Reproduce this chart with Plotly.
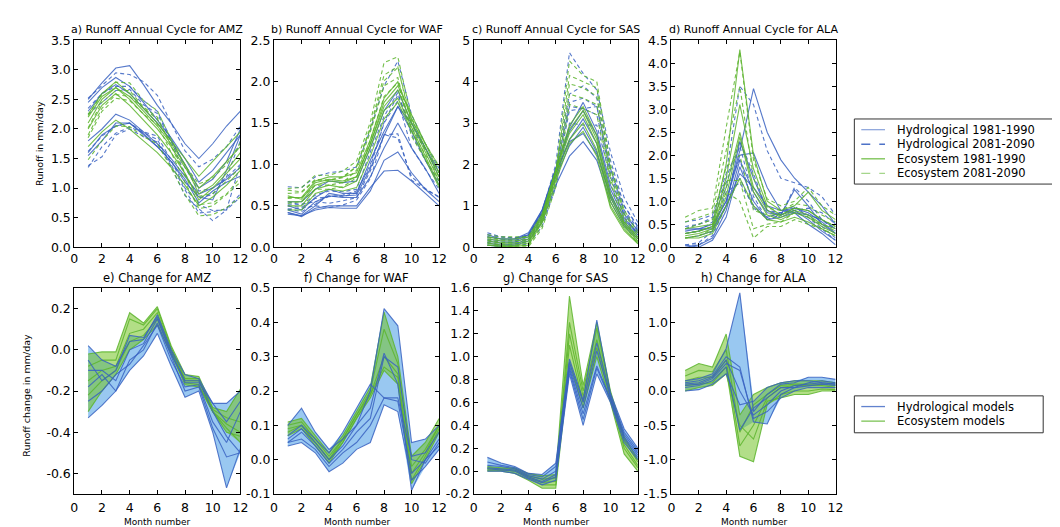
import numpy as np
import plotly.graph_objects as go

W, H = 1060, 527
months = list(range(1, 13))
regions = ["AMZ", "WAF", "SAS", "ALA"]

# ---------------- AMZ ----------------
amz_hyd_hist = [
    [2.5, 2.78, 3.03, 3.07, 2.75, 2.4, 2.1, 1.75, 1.5, 1.75, 2.05, 2.3],
    [2.45, 2.7, 2.87, 2.72, 2.45, 2.15, 1.85, 1.5, 1.1, 1.3, 1.6, 1.9],
    [1.8, 2.0, 2.25, 2.15, 1.95, 1.75, 1.5, 1.2, 0.9, 1.0, 1.15, 1.35],
    [1.6, 1.9, 2.05, 2.1, 1.92, 1.7, 1.45, 1.15, 0.75, 0.95, 1.1, 1.2],
    [1.55, 1.8, 2.1, 2.1, 1.9, 1.7, 1.45, 1.1, 0.85, 0.8, 1.3, 1.9],
    [2.3, 2.6, 2.75, 2.6, 2.35, 2.1, 1.8, 1.4, 1.0, 1.15, 1.45, 2.0],
]
amz_hyd_fut = [
    [2.52, 2.73, 2.95, 2.92, 2.8, 2.57, 2.1, 1.63, 1.36, 1.49, 1.7, 2.05],
    [2.35, 2.6, 2.72, 2.72, 2.48, 2.3, 1.83, 1.35, 0.95, 1.0, 1.18, 1.4],
    [1.62, 1.88, 2.05, 2.1, 1.95, 1.88, 1.47, 1.0, 0.72, 0.62, 0.63, 0.85],
    [1.35, 1.7, 1.93, 2.03, 1.94, 1.82, 1.4, 0.97, 0.58, 0.6, 0.65, 0.9],
    [1.38, 1.53, 1.9, 2.0, 1.87, 1.78, 1.37, 0.87, 0.65, 0.45, 0.63, 1.42],
    [2.25, 2.45, 2.65, 2.67, 2.41, 2.26, 1.79, 1.24, 0.84, 0.89, 1.19, 1.8],
]
amz_eco_hist = [
    [2.25, 2.6, 2.8, 2.6, 2.35, 2.1, 1.8, 1.5, 1.2, 1.45, 1.7, 1.95],
    [2.1, 2.5, 2.7, 2.5, 2.25, 2.0, 1.7, 1.35, 1.0, 1.2, 1.45, 1.7],
    [2.0, 2.4, 2.6, 2.4, 2.15, 1.9, 1.6, 1.25, 0.8, 1.0, 1.25, 1.5],
    [1.7, 1.95, 2.15, 2.0, 1.8, 1.6, 1.35, 1.05, 0.7, 0.85, 1.05, 1.3],
    [2.2, 2.55, 2.7, 2.55, 2.3, 2.05, 1.75, 1.4, 0.9, 1.05, 1.3, 1.6],
]
amz_eco_fut = [
    [2.23, 2.59, 2.79, 2.78, 2.48, 2.31, 1.82, 1.38, 1.07, 1.17, 1.4, 1.76],
    [2.02, 2.45, 2.65, 2.65, 2.37, 2.2, 1.71, 1.21, 0.86, 0.91, 1.12, 1.35],
    [1.85, 2.3, 2.52, 2.48, 2.25, 2.08, 1.6, 1.1, 0.65, 0.7, 0.89, 1.1],
    [1.48, 1.8, 2.05, 2.04, 1.87, 1.75, 1.34, 0.89, 0.53, 0.55, 0.67, 0.85],
    [1.9, 2.35, 2.58, 2.55, 2.35, 2.17, 1.73, 1.23, 0.72, 0.75, 0.9, 1.18],
]
amz_hyd_chg = [
    [0.02, -0.05, -0.08, 0.04, 0.05, 0.17, 0.0, -0.12, -0.14, -0.26, -0.35, -0.25],
    [-0.1, -0.1, -0.15, 0.0, 0.03, 0.15, -0.02, -0.15, -0.15, -0.3, -0.42, -0.5],
    [-0.18, -0.12, -0.2, -0.05, 0.0, 0.13, -0.03, -0.2, -0.18, -0.38, -0.52, -0.5],
    [-0.25, -0.2, -0.12, -0.07, 0.02, 0.12, -0.05, -0.18, -0.17, -0.35, -0.45, -0.3],
    [-0.33, -0.27, -0.2, -0.1, -0.03, 0.08, -0.08, -0.23, -0.2, -0.4, -0.67, -0.48],
    [-0.05, -0.15, -0.1, 0.07, 0.06, 0.16, -0.01, -0.16, -0.16, -0.26, -0.26, -0.2],
]
amz_eco_chg = [
    [-0.02, -0.01, -0.01, 0.18, 0.13, 0.21, 0.02, -0.12, -0.13, -0.28, -0.3, -0.19],
    [-0.08, -0.05, -0.05, 0.15, 0.12, 0.2, 0.01, -0.14, -0.14, -0.29, -0.33, -0.35],
    [-0.15, -0.1, -0.08, 0.08, 0.1, 0.18, 0.0, -0.15, -0.15, -0.3, -0.36, -0.4],
    [-0.22, -0.15, -0.1, 0.04, 0.07, 0.15, -0.01, -0.16, -0.17, -0.3, -0.38, -0.45],
    [-0.3, -0.2, -0.12, 0.0, 0.05, 0.12, -0.02, -0.17, -0.18, -0.3, -0.4, -0.42],
]

# ---------------- WAF ----------------
waf_hyd_hist = [
    [0.42, 0.37, 0.47, 0.5, 0.5, 0.5, 0.72, 0.92, 0.93, 0.8, 0.65, 0.5],
    [0.4, 0.38, 0.45, 0.48, 0.47, 0.47, 0.68, 1.05, 1.15, 0.9, 0.7, 0.55],
    [0.45, 0.4, 0.55, 0.62, 0.6, 0.6, 0.85, 1.2, 1.5, 1.2, 0.95, 0.65],
    [0.5, 0.45, 0.6, 0.7, 0.65, 0.65, 1.05, 1.4, 1.7, 1.4, 1.05, 0.75],
    [0.42, 0.38, 0.5, 0.65, 0.62, 0.63, 0.95, 1.35, 1.7, 1.5, 1.2, 0.9],
    [0.55, 0.55, 0.7, 0.8, 0.78, 0.8, 1.2, 1.65, 1.9, 1.5, 1.2, 0.85],
]
waf_hyd_fut = [
    [0.52, 0.52, 0.55, 0.53, 0.56, 0.6, 0.92, 1.36, 1.32, 0.85, 0.71, 0.6],
    [0.46, 0.47, 0.5, 0.48, 0.51, 0.57, 0.83, 1.36, 1.37, 0.81, 0.7, 0.61],
    [0.5, 0.48, 0.59, 0.61, 0.63, 0.68, 0.97, 1.5, 1.77, 1.2, 0.94, 0.7],
    [0.55, 0.51, 0.63, 0.68, 0.67, 0.7, 1.15, 1.58, 1.87, 1.36, 1.05, 0.79],
    [0.46, 0.43, 0.52, 0.62, 0.61, 0.66, 1.0, 1.51, 1.84, 1.44, 1.18, 0.93],
    [0.73, 0.72, 0.85, 0.9, 0.92, 0.97, 1.42, 1.95, 2.25, 1.6, 1.25, 0.95],
]
waf_eco_hist = [
    [0.6, 0.6, 0.8, 0.85, 0.85, 0.9, 1.3, 1.8, 2.0, 1.55, 1.2, 0.85],
    [0.55, 0.55, 0.75, 0.8, 0.78, 0.85, 1.25, 1.7, 1.9, 1.5, 1.15, 0.8],
    [0.5, 0.5, 0.7, 0.75, 0.72, 0.8, 1.2, 1.65, 1.8, 1.45, 1.1, 0.75],
    [0.45, 0.45, 0.65, 0.7, 0.68, 0.72, 1.1, 1.55, 1.75, 1.4, 1.05, 0.72],
    [0.62, 0.58, 0.78, 0.82, 0.8, 0.85, 1.25, 1.75, 1.95, 1.6, 1.25, 0.9],
]
waf_eco_fut = [
    [0.71, 0.72, 0.87, 0.87, 0.92, 1.04, 1.51, 2.23, 2.3, 1.56, 1.25, 0.97],
    [0.65, 0.66, 0.81, 0.81, 0.84, 0.98, 1.45, 2.08, 2.18, 1.48, 1.18, 0.9],
    [0.59, 0.6, 0.75, 0.75, 0.78, 0.93, 1.39, 1.95, 2.05, 1.41, 1.12, 0.85],
    [0.53, 0.55, 0.7, 0.7, 0.73, 0.84, 1.29, 1.82, 1.99, 1.34, 1.06, 0.81],
    [0.69, 0.67, 0.82, 0.81, 0.85, 0.97, 1.43, 2.01, 2.17, 1.53, 1.25, 0.98],
]
waf_hyd_chg = [
    [0.1, 0.15, 0.08, 0.03, 0.06, 0.1, 0.2, 0.44, 0.39, 0.05, 0.06, 0.1],
    [0.06, 0.09, 0.05, 0.0, 0.04, 0.1, 0.15, 0.31, 0.22, -0.09, 0.0, 0.06],
    [0.05, 0.08, 0.04, -0.01, 0.03, 0.08, 0.12, 0.3, 0.27, 0.0, -0.01, 0.05],
    [0.05, 0.06, 0.03, -0.02, 0.02, 0.05, 0.1, 0.18, 0.17, -0.04, 0.0, 0.04],
    [0.04, 0.05, 0.02, -0.035, -0.01, 0.03, 0.05, 0.16, 0.14, -0.06, -0.02, 0.03],
    [0.07, 0.1, 0.06, 0.02, 0.08, 0.15, 0.22, 0.18, 0.18, 0.01, 0.02, 0.08],
]
waf_eco_chg = [
    [0.11, 0.12, 0.07, 0.02, 0.07, 0.14, 0.21, 0.43, 0.3, 0.01, 0.05, 0.12],
    [0.1, 0.11, 0.06, 0.01, 0.06, 0.13, 0.2, 0.38, 0.28, -0.02, 0.03, 0.1],
    [0.09, 0.1, 0.05, 0.0, 0.06, 0.13, 0.19, 0.3, 0.25, -0.04, 0.02, 0.1],
    [0.08, 0.1, 0.05, 0.0, 0.05, 0.12, 0.19, 0.27, 0.24, -0.06, 0.01, 0.09],
    [0.07, 0.09, 0.04, -0.01, 0.05, 0.12, 0.18, 0.26, 0.22, -0.07, 0.0, 0.08],
]

# ---------------- SAS ----------------
sas_hyd_hist = [
    [0.3, 0.2, 0.2, 0.35, 0.9, 1.9, 2.9, 3.5, 2.8, 1.5, 0.8, 0.4],
    [0.2, 0.15, 0.15, 0.3, 0.9, 1.9, 2.8, 3.3, 2.7, 1.4, 0.7, 0.35],
    [0.15, 0.1, 0.12, 0.25, 0.8, 1.8, 2.6, 3.1, 2.5, 1.3, 0.6, 0.3],
    [0.1, 0.05, 0.08, 0.2, 0.75, 1.7, 2.45, 2.9, 2.3, 1.2, 0.55, 0.25],
    [0.05, 0.02, 0.05, 0.15, 0.6, 1.5, 2.2, 2.55, 2.1, 1.1, 0.5, 0.2],
    [0.25, 0.2, 0.2, 0.3, 0.85, 1.8, 2.55, 2.75, 2.25, 1.25, 0.65, 0.35],
]
sas_hyd_fut = [
    [0.35, 0.25, 0.22, 0.3, 0.85, 2.0, 4.7, 4.2, 3.8, 2.3, 1.2, 0.6],
    [0.25, 0.2, 0.17, 0.27, 0.85, 1.9, 3.7, 3.9, 3.6, 2.1, 1.0, 0.5],
    [0.18, 0.12, 0.13, 0.2, 0.7, 1.8, 3.5, 3.6, 3.4, 1.9, 0.9, 0.45],
    [0.12, 0.06, 0.08, 0.14, 0.65, 1.65, 3.3, 3.35, 3.2, 1.8, 0.85, 0.4],
    [0.05, 0.02, 0.03, 0.08, 0.5, 1.45, 3.0, 2.95, 2.95, 1.7, 0.75, 0.3],
    [0.3, 0.25, 0.23, 0.27, 0.8, 1.85, 3.4, 3.35, 3.4, 1.9, 1.0, 0.5],
]
sas_eco_hist = [
    [0.25, 0.2, 0.2, 0.25, 0.8, 1.9, 2.95, 3.4, 2.7, 1.3, 0.6, 0.25],
    [0.2, 0.15, 0.15, 0.2, 0.75, 1.85, 2.85, 3.3, 2.6, 1.2, 0.55, 0.2],
    [0.15, 0.1, 0.1, 0.15, 0.7, 1.8, 2.75, 3.2, 2.5, 1.1, 0.5, 0.15],
    [0.1, 0.05, 0.05, 0.1, 0.65, 1.7, 2.6, 3.0, 2.35, 1.0, 0.45, 0.1],
    [0.05, 0.02, 0.02, 0.05, 0.6, 1.6, 2.5, 2.8, 2.2, 0.95, 0.4, 0.08],
]
sas_eco_fut = [
    [0.3, 0.25, 0.25, 0.25, 0.75, 1.85, 4.5, 4.15, 4.0, 2.0, 0.9, 0.35],
    [0.23, 0.17, 0.17, 0.17, 0.68, 1.8, 4.15, 4.0, 3.85, 1.9, 0.82, 0.28],
    [0.17, 0.11, 0.11, 0.1, 0.6, 1.72, 3.95, 3.85, 3.65, 1.75, 0.72, 0.2],
    [0.11, 0.06, 0.05, 0.04, 0.53, 1.58, 3.7, 3.6, 3.45, 1.65, 0.65, 0.13],
    [0.05, 0.02, 0.01, 0.01, 0.45, 1.45, 3.45, 3.35, 3.2, 1.55, 0.55, 0.08],
]
sas_hyd_chg = [
    [0.12, 0.07, 0.04, -0.02, -0.03, 0.07, 0.98, 0.62, 1.32, 0.68, 0.37, 0.2],
    [0.05, 0.04, 0.02, -0.04, -0.07, 0.0, 0.92, 0.55, 1.05, 0.65, 0.32, 0.16],
    [0.03, 0.02, 0.01, -0.05, -0.09, -0.03, 0.9, 0.5, 0.92, 0.63, 0.3, 0.14],
    [0.02, 0.01, 0.0, -0.06, -0.1, -0.05, 0.88, 0.45, 0.9, 0.62, 0.28, 0.12],
    [0.0, 0.0, -0.02, -0.07, -0.12, -0.08, 0.85, 0.4, 0.85, 0.6, 0.25, 0.1],
    [0.08, 0.05, 0.03, -0.03, -0.05, 0.04, 0.95, 0.6, 1.12, 0.66, 0.34, 0.18],
]
sas_eco_chg = [
    [0.04, 0.03, 0.03, -0.02, -0.04, -0.03, 1.53, 0.75, 1.3, 0.7, 0.3, 0.1],
    [0.03, 0.02, 0.02, -0.04, -0.07, -0.06, 1.3, 0.7, 1.25, 0.68, 0.27, 0.08],
    [0.02, 0.01, 0.01, -0.05, -0.1, -0.09, 1.2, 0.65, 1.15, 0.66, 0.23, 0.05],
    [0.01, 0.01, 0.0, -0.06, -0.12, -0.12, 1.1, 0.6, 1.08, 0.63, 0.2, 0.03],
    [0.0, 0.0, -0.02, -0.08, -0.15, -0.15, 0.95, 0.55, 1.0, 0.6, 0.15, 0.0],
]

# ---------------- ALA ----------------
ala_hyd_hist = [
    [0.4, 0.4, 0.5, 1.0, 2.1, 3.45, 2.5, 1.9, 1.5, 1.2, 0.9, 0.5],
    [0.3, 0.35, 0.45, 1.0, 2.0, 2.05, 1.3, 0.8, 0.75, 0.7, 0.6, 0.4],
    [0.2, 0.25, 0.35, 0.9, 2.3, 1.5, 0.8, 0.7, 1.25, 0.9, 0.5, 0.3],
    [0.0, 0.05, 0.2, 0.8, 1.9, 1.2, 0.75, 0.7, 0.8, 0.6, 0.35, 0.15],
    [0.05, 0.0, 0.15, 0.65, 1.75, 1.0, 0.6, 0.65, 0.75, 0.5, 0.3, 0.05],
    [0.35, 0.4, 0.4, 0.9, 1.6, 1.3, 0.9, 0.8, 0.85, 0.75, 0.55, 0.3],
]
ala_hyd_fut = [
    [0.55, 0.6, 0.7, 1.6, 3.5, 3.1, 2.1, 1.5, 1.4, 1.3, 1.1, 0.7],
    [0.4, 0.5, 0.65, 1.5, 2.3, 1.6, 0.8, 0.75, 0.8, 0.85, 0.75, 0.5],
    [0.3, 0.35, 0.55, 1.4, 2.2, 1.1, 0.6, 0.7, 1.3, 1.0, 0.6, 0.4],
    [0.05, 0.1, 0.35, 1.2, 1.4, 0.9, 0.65, 0.75, 0.85, 0.7, 0.45, 0.2],
    [0.05, 0.05, 0.25, 0.9, 1.5, 0.85, 0.65, 0.75, 0.9, 0.65, 0.4, 0.15],
    [0.45, 0.5, 0.6, 1.3, 1.9, 0.9, 0.6, 0.7, 0.85, 0.8, 0.6, 0.35],
]
ala_eco_hist = [
    [0.4, 0.45, 0.5, 1.8, 4.3, 2.0, 1.0, 0.8, 0.9, 1.2, 0.8, 0.6],
    [0.3, 0.35, 0.45, 1.5, 3.1, 1.7, 0.9, 0.7, 0.85, 0.8, 0.6, 0.45],
    [0.25, 0.3, 0.4, 1.3, 2.5, 1.3, 0.8, 0.65, 0.8, 0.7, 0.5, 0.4],
    [0.2, 0.25, 0.35, 1.1, 2.4, 1.2, 0.7, 0.6, 0.75, 0.65, 0.45, 0.3],
    [0.2, 0.2, 0.3, 0.9, 1.5, 0.9, 0.6, 0.55, 0.65, 0.55, 0.4, 0.25],
]
ala_eco_fut = [
    [0.65, 0.8, 0.85, 2.6, 4.25, 1.9, 1.05, 0.9, 1.0, 1.3, 0.9, 0.7],
    [0.55, 0.65, 0.75, 2.1, 3.5, 1.5, 0.85, 0.8, 0.95, 0.9, 0.7, 0.55],
    [0.4, 0.5, 0.6, 1.75, 2.0, 0.8, 0.7, 0.7, 0.85, 0.8, 0.6, 0.45],
    [0.3, 0.35, 0.45, 1.45, 1.45, 0.4, 0.5, 0.55, 0.75, 0.65, 0.5, 0.35],
    [0.2, 0.25, 0.4, 1.2, 1.0, 0.2, 0.45, 0.45, 0.6, 0.5, 0.4, 0.25],
]
ala_hyd_chg = [
    [0.15, 0.18, 0.25, 0.62, 1.43, -0.3, -0.05, 0.1, 0.12, 0.2, 0.2, 0.17],
    [0.12, 0.15, 0.22, 0.5, 0.35, -0.45, -0.48, -0.05, 0.05, 0.12, 0.15, 0.12],
    [0.1, 0.12, 0.2, 0.45, 0.0, -0.35, -0.2, 0.0, 0.08, 0.1, 0.12, 0.1],
    [0.05, 0.08, 0.15, 0.35, -0.57, -0.25, -0.1, 0.05, 0.05, 0.08, 0.1, 0.08],
    [0.0, 0.02, 0.1, 0.25, -0.2, -0.15, 0.05, 0.12, 0.15, 0.15, 0.12, 0.1],
    [0.08, 0.1, 0.18, 0.4, 0.3, -0.4, -0.3, -0.1, 0.0, 0.05, 0.05, 0.05],
]
ala_eco_chg = [
    [0.3, 0.4, 0.35, 0.83, -0.35, -0.05, 0.05, 0.12, 0.15, 0.15, 0.15, 0.12],
    [0.22, 0.3, 0.28, 0.6, -0.6, -0.2, -0.05, 0.08, 0.1, 0.1, 0.1, 0.08],
    [0.15, 0.2, 0.2, 0.45, -0.8, -0.5, -0.1, 0.05, 0.08, 0.08, 0.08, 0.05],
    [0.08, 0.1, 0.12, 0.35, -0.95, -1.03, -0.2, -0.05, 0.0, 0.0, 0.03, 0.02],
    [0.0, 0.05, 0.08, 0.25, -0.5, -0.7, -0.15, -0.1, -0.05, -0.05, 0.0, 0.0],
]

# tick values of the change panels (labels written with a plain hyphen)
amz_chg_ticks = [-0.6, -0.4, -0.2, 0.0, 0.2]
waf_chg_ticks = [-0.1, 0.0, 0.1, 0.2, 0.3, 0.4, 0.5]
sas_chg_ticks = [-0.2, 0.0, 0.2, 0.4, 0.6, 0.8, 1.0, 1.2, 1.4, 1.6]
ala_chg_ticks = [-1.5, -1.0, -0.5, 0.0, 0.5, 1.0, 1.5]

top_titles = ["a) Runoff Annual Cycle for AMZ", "b) Runoff Annual Cycle for WAF",
              "c) Runoff Annual Cycle for SAS", "d) Runoff Annual Cycle for ALA"]
bot_titles = ["e) Change for AMZ", "f) Change for WAF", "g) Change for SAS", "h) Change for ALA"]
legend_top_labels = ["Hydrological 1981-1990", "Hydrological 2081-2090",
                     "Ecosystem 1981-1990", "Ecosystem 2081-2090"]
legend_bot_labels = ["Hydrological models", "Ecosystem models"]

hist = {"AMZ": (amz_hyd_hist, amz_eco_hist), "WAF": (waf_hyd_hist, waf_eco_hist),
        "SAS": (sas_hyd_hist, sas_eco_hist), "ALA": (ala_hyd_hist, ala_eco_hist)}
fut = {"AMZ": (amz_hyd_fut, amz_eco_fut), "WAF": (waf_hyd_fut, waf_eco_fut),
       "SAS": (sas_hyd_fut, sas_eco_fut), "ALA": (ala_hyd_fut, ala_eco_fut)}
chg = {"AMZ": (amz_hyd_chg, amz_eco_chg), "WAF": (waf_hyd_chg, waf_eco_chg),
       "SAS": (sas_hyd_chg, sas_eco_chg), "ALA": (ala_hyd_chg, ala_eco_chg)}
chg_ticks = {"AMZ": amz_chg_ticks, "WAF": waf_chg_ticks, "SAS": sas_chg_ticks,
             "ALA": ala_chg_ticks}

# ---------------- styling ----------------
BLUE = "#3a63c2"
GREEN = "#5db52e"
BLUE_FILL = "rgba(70,155,230,0.55)"
GREEN_FILL = "rgba(115,195,40,0.55)"
FONT = "DejaVu Sans"

col_l = [63, 265, 467, 667]
col_r = [231, 432, 633, 833]
top_px = (25, 238)
bot_px = (280, 492)

top_ranges = [[0, 3.5], [0, 2.5], [0, 5], [0, 4.5]]
top_dticks = [0.5, 0.5, 1, 0.5]
top_fmt = [".1f", ".1f", "d", ".1f"]
bot_ranges = [[-0.7, 0.3], [-0.1, 0.5], [-0.2, 1.6], [-1.5, 1.5]]


def fx(p):
    return p / W


def fy(p):
    return 1 - p / H


fig = go.Figure()
layout = dict(
    width=W, height=H, margin=dict(l=0, r=0, t=0, b=0),
    paper_bgcolor="white", plot_bgcolor="white", showlegend=False,
    font=dict(family=FONT, color="black"),
)

axis_common = dict(showline=True, linecolor="black", linewidth=1, mirror="ticks",
                   ticks="inside", ticklen=4, tickcolor="black", showgrid=False,
                   zeroline=False, tickfont=dict(family=FONT, size=12.5, color="black"))

annotations = []
shapes = []

for i, reg in enumerate(regions):
    n_top = i + 1
    n_bot = i + 5
    xa_t = "x" if n_top == 1 else f"x{n_top}"
    ya_t = "y" if n_top == 1 else f"y{n_top}"
    xa_b = f"x{n_bot}"
    ya_b = f"y{n_bot}"

    layout["xaxis" if n_top == 1 else f"xaxis{n_top}"] = dict(
        axis_common, domain=[fx(col_l[i]), fx(col_r[i])], range=[0, 12],
        tick0=0, dtick=2, anchor=ya_t)
    layout["yaxis" if n_top == 1 else f"yaxis{n_top}"] = dict(
        axis_common, domain=[fy(top_px[1]), fy(top_px[0])], range=top_ranges[i],
        tick0=0, dtick=top_dticks[i], tickformat=top_fmt[i], anchor=xa_t)
    layout[f"xaxis{n_bot}"] = dict(
        axis_common, domain=[fx(col_l[i]), fx(col_r[i])], range=[0, 12],
        tick0=0, dtick=2, anchor=ya_b, ticklabelstandoff=2)
    tv = chg_ticks[reg]
    layout[f"yaxis{n_bot}"] = dict(
        axis_common, domain=[fy(bot_px[1]), fy(bot_px[0])], range=bot_ranges[i],
        tickmode="array", tickvals=tv, ticktext=[f"{v:.1f}" for v in tv], anchor=xa_b)

    hh, he = hist[reg]
    fh, fe = fut[reg]
    for ys in hh:
        fig.add_trace(go.Scatter(x=months, y=ys, mode="lines", xaxis=xa_t, yaxis=ya_t,
                                 line=dict(color=BLUE, width=1.1), opacity=0.85))
    for ys in fh:
        fig.add_trace(go.Scatter(x=months, y=ys, mode="lines", xaxis=xa_t, yaxis=ya_t,
                                 line=dict(color=BLUE, width=1.1, dash="4px,3px"), opacity=0.85))
    for ys in he:
        fig.add_trace(go.Scatter(x=months, y=ys, mode="lines", xaxis=xa_t, yaxis=ya_t,
                                 line=dict(color=GREEN, width=1.1), opacity=0.85))
    for ys in fe:
        fig.add_trace(go.Scatter(x=months, y=ys, mode="lines", xaxis=xa_t, yaxis=ya_t,
                                 line=dict(color=GREEN, width=1.1, dash="4px,3px"), opacity=0.85))

    ch, ce = chg[reg]
    for arr, fillc in ((ch, BLUE_FILL), (ce, GREEN_FILL)):
        a = np.array(arr)
        up = a.max(axis=0)
        lo = a.min(axis=0)
        fig.add_trace(go.Scatter(x=months + months[::-1], y=list(up) + list(lo[::-1]),
                                 mode="lines", fill="toself", fillcolor=fillc,
                                 line=dict(width=0), xaxis=xa_b, yaxis=ya_b,
                                 hoverinfo="skip"))
    for ys in ce:
        fig.add_trace(go.Scatter(x=months, y=ys, mode="lines", xaxis=xa_b, yaxis=ya_b,
                                 line=dict(color=GREEN, width=1.1), opacity=0.85))
    for ys in ch:
        fig.add_trace(go.Scatter(x=months, y=ys, mode="lines", xaxis=xa_b, yaxis=ya_b,
                                 line=dict(color=BLUE, width=1.1), opacity=0.85))

    cx = fx((col_l[i] + col_r[i]) / 2)
    annotations.append(dict(text=top_titles[i], x=cx, y=fy(22), xref="paper", yref="paper",
                            xanchor="center", yanchor="bottom", showarrow=False, borderpad=0,
                            font=dict(family=FONT, size=11, color="black")))
    annotations.append(dict(text=bot_titles[i], x=cx, y=fy(278), xref="paper", yref="paper",
                            xanchor="center", yanchor="bottom", showarrow=False, borderpad=0,
                            font=dict(family=FONT, size=11.5, color="black")))
    annotations.append(dict(text="Month number", x=cx, y=fy(521), xref="paper", yref="paper",
                            xanchor="center", yanchor="middle", showarrow=False, borderpad=0,
                            font=dict(family=FONT, size=9, color="black")))

annotations.append(dict(text="Runoff in mm/day", x=fx(28), y=fy(131), xref="paper", yref="paper",
                        xanchor="center", yanchor="middle", textangle=-90, showarrow=False,
                        font=dict(family=FONT, size=9.5, color="black")))
annotations.append(dict(text="Runoff change in mm/day", x=fx(15), y=fy(390), xref="paper",
                        yref="paper", xanchor="center", yanchor="middle", textangle=-90,
                        showarrow=False, font=dict(family=FONT, size=9.5, color="black")))

# ---------------- legends (drawn) ----------------
shapes.append(dict(type="rect", xref="paper", yref="paper", x0=fx(852), x1=fx(1075),
                   y0=fy(173), y1=fy(106), line=dict(color="#333333", width=1),
                   fillcolor="white", layer="above"))
leg1_styles = [(BLUE, "solid", 0.55), (BLUE, "dash", 0.9), (GREEN, "solid", 0.85),
               (GREEN, "dash", 0.55)]
leg1_y = [117, 132, 147, 162]
for lab, (c, d, op), yy in zip(legend_top_labels, leg1_styles, leg1_y):
    shapes.append(dict(type="line", xref="paper", yref="paper", x0=fx(859), x1=fx(883),
                       y0=fy(yy), y1=fy(yy), line=dict(color=c, width=1.3, dash=d),
                       opacity=op, layer="above"))
    annotations.append(dict(text=lab, x=fx(894), y=fy(yy), xref="paper", yref="paper",
                            xanchor="left", yanchor="middle", showarrow=False, borderpad=0,
                            font=dict(family=FONT, size=11.5, color="black")))

shapes.append(dict(type="rect", xref="paper", yref="paper", x0=fx(852), x1=fx(1043),
                   y0=fy(429), y1=fy(391), line=dict(color="#333333", width=1),
                   fillcolor="white", layer="above"))
leg2_y = [402, 417]
for lab, c, yy in zip(legend_bot_labels, [BLUE, GREEN], leg2_y):
    shapes.append(dict(type="line", xref="paper", yref="paper", x0=fx(859), x1=fx(883),
                       y0=fy(yy), y1=fy(yy), line=dict(color=c, width=1.3),
                       opacity=0.8, layer="above"))
    annotations.append(dict(text=lab, x=fx(894), y=fy(yy), xref="paper", yref="paper",
                            xanchor="left", yanchor="middle", showarrow=False, borderpad=0,
                            font=dict(family=FONT, size=11.5, color="black")))

layout["annotations"] = annotations
layout["shapes"] = shapes
fig.update_layout(**layout)
fig.write_html("out.html")
